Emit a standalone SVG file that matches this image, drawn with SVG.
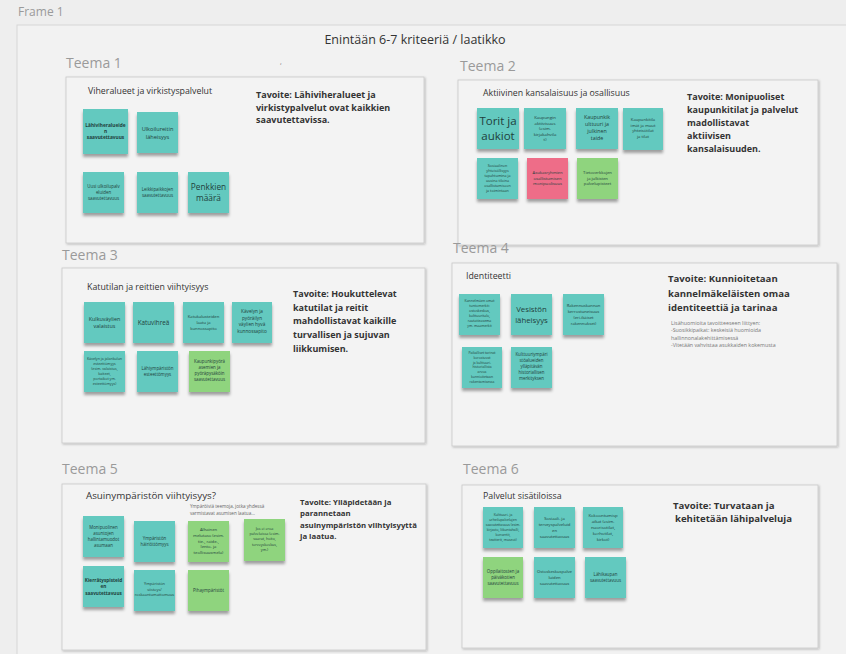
<svg xmlns="http://www.w3.org/2000/svg" width="846" height="654" viewBox="0 0 846 654">
<defs>
<filter id="sh" x="-20%" y="-20%" width="140%" height="150%"><feDropShadow dx="0" dy="3" stdDeviation="1.6" flood-color="#000" flood-opacity="0.35"/></filter>
<filter id="psh" x="-5%" y="-5%" width="110%" height="110%"><feDropShadow dx="1" dy="1" stdDeviation="1.2" flood-color="#000" flood-opacity="0.25"/></filter>
<style>
text{font-family:"Open Sans","Noto Sans","Liberation Sans",sans-serif}
.bg{fill:#eeeeee}
.frame{fill:#f2f2f2;stroke:#d6d6d6;stroke-width:1}
.panel{fill:#f3f3f3;stroke:#c9c9c9;stroke-width:0.8;filter:url(#psh)}
.teema{font-size:14px;fill:#9a9a9a}
.ptitle{fill:#333}
.goal{font-weight:700;fill:#333}
.teal{fill:#63c9bf;filter:url(#sh)}
.green{fill:#8fd47e;filter:url(#sh)}
.pink{fill:#ee6d88;filter:url(#sh)}
.nt{fill:#1f3f3c;text-anchor:middle}
.small{font-size:5.3px;fill:#777}
</style>
</defs>
<rect class="bg" x="0" y="0" width="846" height="654"/>
<text x="18" y="16" font-size="12" fill="#9a9a9a">Frame 1</text>
<rect class="frame" x="17" y="25" width="840" height="640"/>
<text x="415" y="44" font-size="12.5" fill="#333" text-anchor="middle">Enintään 6-7 kriteeriä / laatikko</text>
<text x="280" y="64" font-size="7" fill="#777">,</text>

<g id="teema1">
<text class="teema" x="66" y="68">Teema 1</text>
<rect class="panel" x="66" y="77" width="358" height="166"/>
<text class="ptitle" x="88" y="94" font-size="8.8">Viheralueet ja virkistyspalvelut</text>
<text class="goal" x="256" y="98" font-size="9"><tspan x="256">Tavoite: Lähiviheralueet ja</tspan><tspan x="256" dy="12.5">virkistypalvelut ovat kaikkien</tspan><tspan x="256" dy="12.5">saavutettavissa.</tspan></text>
<g id="t1n1"><rect class="teal" x="83" y="109" width="45" height="45"/><text class="nt" font-size="4.8" font-weight="700"><tspan x="105.5" y="127">Lähiviheralueide</tspan><tspan x="105.5" dy="6">n</tspan><tspan x="105.5" dy="6">saavutettavuus</tspan></text></g>
<g id="t1n2"><rect class="teal" x="137" y="112" width="41" height="41"/><text class="nt" font-size="5.6"><tspan x="157.5" y="131">Ulkoilureitin</tspan><tspan x="157.5" dy="7.5">läheisyys</tspan></text></g>
<g id="t1n3"><rect class="teal" x="83" y="172" width="41" height="41"/><text class="nt" font-size="4.4"><tspan x="103.5" y="188">Uusi ulkoilupalv</tspan><tspan x="103.5" dy="6">eluiden</tspan><tspan x="103.5" dy="6">saavutettavuus</tspan></text></g>
<g id="t1n4"><rect class="teal" x="137" y="172" width="41" height="41"/><text class="nt" font-size="4.4"><tspan x="157.5" y="191">Leikkipaikkojen</tspan><tspan x="157.5" dy="6">saavutettavuus</tspan></text></g>
<g id="t1n5"><rect class="teal" x="188" y="172" width="41" height="41"/><text class="nt" font-size="8.3"><tspan x="208.5" y="190">Penkkien</tspan><tspan x="208.5" dy="11">määrä</tspan></text></g>
</g>

<g id="teema2">
<text class="teema" x="460" y="71">Teema 2</text>
<rect class="panel" x="458" y="80" width="360" height="165"/>
<text class="ptitle" x="483" y="96" font-size="8.8">Aktiivinen kansalaisuus ja osallisuus</text>
<text class="goal" x="687" y="100" font-size="9"><tspan x="687">Tavoite: Monipuoliset</tspan><tspan x="687" dy="13">kaupunkitilat ja palvelut</tspan><tspan x="687" dy="13">madollistavat</tspan><tspan x="687" dy="13">aktiivisen</tspan><tspan x="687" dy="13">kansalaisuuden.</tspan></text>
<g id="t2n1"><rect class="teal" x="477" y="108" width="42" height="41"/><text class="nt" font-size="11.5"><tspan x="498" y="125">Torit ja</tspan><tspan x="498" dy="14.5">aukiot</tspan></text></g>
<g id="t2n2"><rect class="teal" x="524" y="108" width="42" height="41"/><text class="nt" font-size="4.3"><tspan x="545" y="119">Kaupungin</tspan><tspan x="545" dy="5.5">aktiivisuus</tspan><tspan x="545" dy="5.5">(esim.</tspan><tspan x="545" dy="5.5">kirjakahvila</tspan><tspan x="545" dy="5.5">t)</tspan></text></g>
<g id="t2n3"><rect class="teal" x="576" y="108" width="42" height="41"/><text class="nt" font-size="5.3"><tspan x="597" y="119">Kaupunkik</tspan><tspan x="597" dy="7">ulttuuri ja</tspan><tspan x="597" dy="7">julkinen</tspan><tspan x="597" dy="7">taide</tspan></text></g>
<g id="t2n4"><rect class="teal" x="623" y="108" width="40" height="42"/><text class="nt" font-size="4.2"><tspan x="643" y="121">Kaupunkitila</tspan><tspan x="643" dy="5.5">imät ja muut</tspan><tspan x="643" dy="5.5">yhteisötilat</tspan><tspan x="643" dy="5.5">ja tilat</tspan></text></g>
<g id="t2n5"><rect class="teal" x="477" y="158" width="41" height="41"/><text class="nt" font-size="3.7"><tspan x="497.5" y="167">Sosiaalinen</tspan><tspan x="497.5" dy="5">yhteisöllisyys</tspan><tspan x="497.5" dy="5">tapahtumina ja</tspan><tspan x="497.5" dy="5">uusina tiloina</tspan><tspan x="497.5" dy="5">osallistumiseen</tspan><tspan x="497.5" dy="5">ja toimintaan</tspan></text></g>
<g id="t2n6"><rect class="pink" x="527" y="158" width="41" height="41"/><text class="nt" font-size="4.2"><tspan x="547.5" y="174">Asukasryhmien</tspan><tspan x="547.5" dy="5.5">osallistumisen</tspan><tspan x="547.5" dy="5.5">monipuolisuus</tspan></text></g>
<g id="t2n7"><rect class="green" x="577" y="158" width="41" height="41"/><text class="nt" font-size="4.2"><tspan x="597.5" y="174">Tietoverkkojen</tspan><tspan x="597.5" dy="5.5">ja julkisten</tspan><tspan x="597.5" dy="5.5">palvelupisteet</tspan></text></g>
</g>

<g id="teema3">
<text class="teema" x="62" y="260">Teema 3</text>
<rect class="panel" x="62" y="268" width="363" height="175"/>
<text class="ptitle" x="87" y="290" font-size="8.8">Katutilan ja reittien viihtyisyys</text>
<text class="goal" x="293" y="297" font-size="9"><tspan x="293">Tavoite: Houkuttelevat</tspan><tspan x="293" dy="13.7">katutilat ja reitit</tspan><tspan x="293" dy="13.7">mahdollistavat kaikille</tspan><tspan x="293" dy="13.7">turvallisen ja sujuvan</tspan><tspan x="293" dy="13.7">liikkumisen.</tspan></text>
<g id="t3n1"><rect class="teal" x="84" y="302" width="41" height="41"/><text class="nt" font-size="5.4"><tspan x="104.5" y="321">Kulkuväylien</tspan><tspan x="104.5" dy="7">valaistus</tspan></text></g>
<g id="t3n2"><rect class="teal" x="133" y="302" width="41" height="41"/><text class="nt" font-size="6.3"><tspan x="153.5" y="324.5">Katuvihreä</tspan></text></g>
<g id="t3n3"><rect class="teal" x="183" y="302" width="41" height="41"/><text class="nt" font-size="4.2"><tspan x="203.5" y="318">Katukalusteiden</tspan><tspan x="203.5" dy="5.8">laatu ja</tspan><tspan x="203.5" dy="5.8">kunnossapito</tspan></text></g>
<g id="t3n4"><rect class="teal" x="232" y="302" width="40" height="41"/><text class="nt" font-size="4.7"><tspan x="252" y="313">Kävelyn ja</tspan><tspan x="252" dy="6.5">pyöräilyn</tspan><tspan x="252" dy="6.5">väylien hyvä</tspan><tspan x="252" dy="6.5">kunnossapito</tspan></text></g>
<g id="t3n5"><rect class="teal" x="84" y="351" width="41" height="41"/><text class="nt" font-size="3.6"><tspan x="104.5" y="360">Kävelyn ja jalankulun</tspan><tspan x="104.5" dy="5">esteettömyys</tspan><tspan x="104.5" dy="5">(esim. valaistus,</tspan><tspan x="104.5" dy="5">kaiteet,</tspan><tspan x="104.5" dy="5">portaikot ym.</tspan><tspan x="104.5" dy="5">esteettömyys)</tspan></text></g>
<g id="t3n6"><rect class="teal" x="137" y="351" width="41" height="41"/><text class="nt" font-size="4.4"><tspan x="157.5" y="370">Lähiympäristön</tspan><tspan x="157.5" dy="6">esteettömyys</tspan></text></g>
<g id="t3n7"><rect class="green" x="189" y="351" width="41" height="41"/><text class="nt" font-size="4.4"><tspan x="209.5" y="363">Kaupunkipyörä</tspan><tspan x="209.5" dy="6">asemien ja</tspan><tspan x="209.5" dy="6">pyöräpysäköin</tspan><tspan x="209.5" dy="6">saavutettavuus</tspan></text></g>
</g>

<g id="teema4">
<rect class="panel" x="452" y="263" width="385" height="183"/>
<text class="teema" x="453" y="253">Teema 4</text>
<text class="ptitle" x="466" y="279" font-size="8.8">Identiteetti</text>
<text class="goal" x="668" y="282" font-size="9.6"><tspan x="668">Tavoite: Kunnioitetaan</tspan><tspan x="668" dy="14.5">kannelmäkeläisten omaa</tspan><tspan x="668" dy="14.5">identiteettiä ja tarinaa</tspan></text>
<text class="small" x="671" y="325"><tspan x="671">Lisähuomioita tavoitteeseen liittyen:</tspan><tspan x="671" dy="7.3">-Suosikkipaikat: keskeisiä huomioida</tspan><tspan x="671" dy="7.3">hallinnonalakehittämisessä</tspan><tspan x="671" dy="7.3">-Vitetään vahvistaa asukkaiden kokemusta</tspan></text>
<g id="t4n1"><rect class="teal" x="459" y="294" width="41" height="41"/><text class="nt" font-size="3.5"><tspan x="479.5" y="302">Kannelmäen omat</tspan><tspan x="479.5" dy="5">tuntomerkit:</tspan><tspan x="479.5" dy="5">ostoskeskus,</tspan><tspan x="479.5" dy="5">kulttuuritalo,</tspan><tspan x="479.5" dy="5">rautatieasema</tspan><tspan x="479.5" dy="5">ym. maamerkit</tspan></text></g>
<g id="t4n2"><rect class="teal" x="511" y="294" width="41" height="41"/><text class="nt" font-size="7.8"><tspan x="531.5" y="312">Vesistön</tspan><tspan x="531.5" dy="11">läheisyys</tspan></text></g>
<g id="t4n3"><rect class="teal" x="563" y="294" width="41" height="41"/><text class="nt" font-size="4.2"><tspan x="583.5" y="307">Rakennuskannan</tspan><tspan x="583.5" dy="6">kerrostuneisuus</tspan><tspan x="583.5" dy="6">(eri-ikäiset</tspan><tspan x="583.5" dy="6">rakennukset)</tspan></text></g>
<g id="t4n4"><rect class="teal" x="462" y="347" width="40" height="41"/><text class="nt" font-size="3.4"><tspan x="482" y="354">Paikalliset tarinat</tspan><tspan x="482" dy="4.8">korostuvat</tspan><tspan x="482" dy="4.8">ja kulttuuri-</tspan><tspan x="482" dy="4.8">historiallista</tspan><tspan x="482" dy="4.8">arvoa</tspan><tspan x="482" dy="4.8">kunnioitetaan</tspan><tspan x="482" dy="4.8">rakentamisessa</tspan></text></g>
<g id="t4n5"><rect class="teal" x="511" y="347" width="41" height="41"/><text class="nt" font-size="4.4"><tspan x="531.5" y="356">Kulttuuriympäri</tspan><tspan x="531.5" dy="6">stöalueiden</tspan><tspan x="531.5" dy="6">ylläpitävän</tspan><tspan x="531.5" dy="6">historiallisen</tspan><tspan x="531.5" dy="6">merkityksen</tspan></text></g>
</g>

<g id="teema5">
<text class="teema" x="62" y="474">Teema 5</text>
<rect class="panel" x="62" y="484" width="364" height="166"/>
<text class="ptitle" x="86" y="499" font-size="9.8">Asuinympäristön viihtyisyys?</text>
<text x="190" y="508" font-size="4.6" fill="#666"><tspan x="190">Ympäröiviä teemoja, jotka yhdessä</tspan><tspan x="190" dy="6.5">varmistavat asumisen laatua...</tspan></text>
<text class="goal" x="300" y="505" font-size="7.8"><tspan x="300">Tavoite: Ylläpidetään ja</tspan><tspan x="300" dy="11.3">parannetaan</tspan><tspan x="300" dy="11.3">asuinympäristön viihtyisyyttä</tspan><tspan x="300" dy="11.3">ja laatua.</tspan></text>
<g id="t5n1"><rect class="teal" x="83" y="516" width="41" height="41"/><text class="nt" font-size="4.4"><tspan x="103.5" y="529">Monipuolinen</tspan><tspan x="103.5" dy="6">asuntojen</tspan><tspan x="103.5" dy="6">hallintamuodot</tspan><tspan x="103.5" dy="6">asumaan</tspan></text></g>
<g id="t5n2"><rect class="teal" x="134" y="521" width="41" height="41"/><text class="nt" font-size="4.4"><tspan x="154.5" y="540">Ympäristön</tspan><tspan x="154.5" dy="6">häiriöttömyys</tspan></text></g>
<g id="t5n3"><rect class="green" x="188" y="521" width="41" height="41"/><text class="nt" font-size="4.2"><tspan x="208.5" y="531">Alhainen</tspan><tspan x="208.5" dy="5.8">melutaso (esim.</tspan><tspan x="208.5" dy="5.8">tie-, raide-,</tspan><tspan x="208.5" dy="5.8">lento- ja</tspan><tspan x="208.5" dy="5.8">teollisuusmelu)</tspan></text></g>
<g id="t5n4"><rect class="green" x="244" y="519" width="41" height="42"/><text class="nt" font-size="3.7"><tspan x="264.5" y="530">Jos ei eroa</tspan><tspan x="264.5" dy="5.2">palveluissa (esim.</tspan><tspan x="264.5" dy="5.2">vaarat, hoito,</tspan><tspan x="264.5" dy="5.2">terveyskeskus,</tspan><tspan x="264.5" dy="5.2">ym.)</tspan></text></g>
<g id="t5n5"><rect class="teal" x="83" y="566" width="41" height="41"/><text class="nt" font-size="4.7" font-weight="700"><tspan x="103.5" y="582">Kierrätyspisteid</tspan><tspan x="103.5" dy="6.3">en</tspan><tspan x="103.5" dy="6.3">saavutettavuus</tspan></text></g>
<g id="t5n6"><rect class="teal" x="134" y="570" width="41" height="41"/><text class="nt" font-size="3.9"><tspan x="154.5" y="585">Ympäristön</tspan><tspan x="154.5" dy="5.5">siisteys/</tspan><tspan x="154.5" dy="5.5">roskaantumattomuus</tspan></text></g>
<g id="t5n7"><rect class="green" x="188" y="570" width="41" height="41"/><text class="nt" font-size="4.4"><tspan x="208.5" y="592">Pihaympäristöt</tspan></text></g>
</g>

<g id="teema6">
<text class="teema" x="463" y="474">Teema 6</text>
<rect class="panel" x="462" y="485" width="356" height="163"/>
<text class="ptitle" x="483" y="499" font-size="8.8">Palvelut sisätiloissa</text>
<text class="goal" x="673" y="509" font-size="9.6"><tspan x="673">Tavoite: Turvataan ja</tspan><tspan x="675" dy="13.3">kehitetään lähipalveluja</tspan></text>
<g id="t6n1"><rect class="teal" x="483" y="507" width="40" height="41"/><text class="nt" font-size="3.4"><tspan x="503" y="515.5">Kulttuuri- ja</tspan><tspan x="503" dy="5">urheilupalvelujen</tspan><tspan x="503" dy="5">saavutettavuus (esim.</tspan><tspan x="503" dy="5">kirjasto, liikuntahalli,</tspan><tspan x="503" dy="5">konsertit,</tspan><tspan x="503" dy="5">teatterit, museot)</tspan></text></g>
<g id="t6n2"><rect class="teal" x="534" y="507" width="41" height="41"/><text class="nt" font-size="4.2"><tspan x="554.5" y="520">Sosiaali- ja</tspan><tspan x="554.5" dy="6">terveyspalveluid</tspan><tspan x="554.5" dy="6">en</tspan><tspan x="554.5" dy="6">saavutettavuus</tspan></text></g>
<g id="t6n3"><rect class="teal" x="583" y="507" width="40" height="41"/><text class="nt" font-size="4.3"><tspan x="603" y="517">Kokoontumisp</tspan><tspan x="603" dy="6">aikat (esim.</tspan><tspan x="603" dy="6">nuorisotilat,</tspan><tspan x="603" dy="6">kerhotilat,</tspan><tspan x="603" dy="6">kirkot)</tspan></text></g>
<g id="t6n4"><rect class="green" x="483" y="557" width="40" height="41"/><text class="nt" font-size="4.4"><tspan x="503" y="573">Oppilaitosten ja</tspan><tspan x="503" dy="6">päiväkotien</tspan><tspan x="503" dy="6">saavutettavuus</tspan></text></g>
<g id="t6n5"><rect class="teal" x="534" y="557" width="41" height="41"/><text class="nt" font-size="4.2"><tspan x="554.5" y="573">Ostoskeskuspalve</tspan><tspan x="554.5" dy="6">luiden</tspan><tspan x="554.5" dy="6">saavutettavuus</tspan></text></g>
<g id="t6n6"><rect class="teal" x="585" y="557" width="41" height="41"/><text class="nt" font-size="4.4"><tspan x="605.5" y="576">Lähikaupan</tspan><tspan x="605.5" dy="6">saavutettavuus</tspan></text></g>
</g>

<g id="connectors"></g>
</svg>
